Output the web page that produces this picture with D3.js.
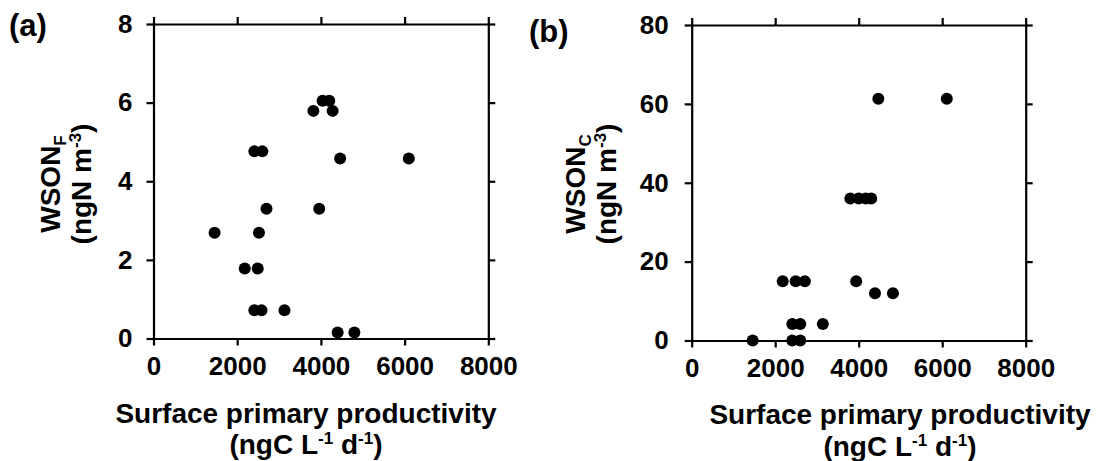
<!DOCTYPE html>
<html>
<head>
<meta charset="utf-8">
<script src="https://cdn.jsdelivr.net/npm/d3@7"></script>
<style>
  body { margin: 0; background: #fff; }
  svg text { font-family: "Liberation Sans", Arial, sans-serif; font-weight: bold; fill: #000; }
</style>
</head>
<body>
<svg id="chart" width="1104" height="461"></svg>
<script>
// panel (a): WSON_F vs surface primary productivity
const xA = [1460, 2180, 2490, 2410, 2600, 2520, 2700, 2410, 2580, 3130, 3820, 4040, 4200, 4280, 3960, 4460, 6100, 4400, 4800];
const yA = [2.69, 1.78, 1.78, 4.76, 4.76, 2.69, 3.3, 0.72, 0.72, 0.72, 5.79, 6.05, 6.05, 5.79, 3.3, 4.58, 4.58, 0.15, 0.15];

// panel (b): WSON_C vs surface primary productivity
const xB = [1460, 2180, 2490, 2710, 2410, 2600, 3140, 2410, 2600, 3800, 4000, 4170, 4300, 3940, 4390, 4820, 4470, 6110];
const yB = [0, 15, 15, 15, 4.2, 4.2, 4.2, 0, 0, 36, 36, 36, 36, 15, 12, 12, 61.3, 61.3];

const xTicks = [0, 2000, 4000, 6000, 8000];
const yTicksA = [0, 2, 4, 6, 8];
const yTicksB = [0, 20, 40, 60, 80];

const svg = d3.select('#chart');

function drawPanel(opt) {
    const x = d3.scaleLinear().domain([0, 8000]).range([opt.left, opt.right]);
    const y = d3.scaleLinear().domain([0, opt.ymax]).range([opt.bottom, opt.top]);
    const g = svg.append('g');

    const style = sel => {
        sel.selectAll('path, line').attr('stroke', '#000').attr('stroke-width', 2.2);
        sel.selectAll('text').attr('font-size', 26).attr('fill', '#000');
    };

    g.append('g').attr('transform', `translate(0,${opt.bottom})`)
        .call(d3.axisBottom(x).tickValues(xTicks).tickFormat(d3.format('d'))
            .tickSizeInner(7).tickSizeOuter(0).tickPadding(11))
        .call(style);
    g.append('g').attr('transform', `translate(0,${opt.top})`)
        .call(d3.axisTop(x).tickValues(xTicks).tickSizeInner(7).tickSizeOuter(0).tickFormat(''))
        .call(style);
    g.append('g').attr('transform', `translate(${opt.left},0)`)
        .call(d3.axisLeft(y).tickValues(opt.yTicks).tickSizeInner(7).tickSizeOuter(0).tickPadding(opt.ypad))
        .call(style);
    g.append('g').attr('transform', `translate(${opt.right},0)`)
        .call(d3.axisRight(y).tickValues(opt.yTicks).tickSizeInner(7).tickSizeOuter(0).tickFormat(''))
        .call(style);
    g.selectAll('.domain').attr('stroke-linecap', 'square');

    g.append('g').selectAll('circle')
        .data(d3.zip(opt.xs, opt.ys))
        .enter().append('circle')
        .attr('cx', d => x(d[0]))
        .attr('cy', d => y(d[1]))
        .attr('r', 6)
        .attr('fill', '#000');

    // panel letter
    g.append('text').attr('x', opt.tagX).attr('y', opt.tagY)
        .attr('font-size', 31).text(opt.tag);

    // y title, two lines
    const yt = g.append('text').attr('font-size', 28).attr('text-anchor', 'middle')
        .attr('transform', `translate(${opt.yl1},${opt.ymid}) rotate(-90)`);
    yt.append('tspan').text('WSON');
    yt.append('tspan').attr('font-size', 17).attr('dy', 6).text(opt.sub);

    const yt2 = g.append('text').attr('font-size', 28).attr('text-anchor', 'middle')
        .attr('transform', `translate(${opt.yl2},${opt.ymid}) rotate(-90)`);
    yt2.append('tspan').text('(ngN m');
    yt2.append('tspan').attr('font-size', 17).attr('dy', -10).text('-3');
    yt2.append('tspan').attr('dy', 10).text(')');

    // x title, two lines
    g.append('text').attr('x', opt.xmid).attr('y', opt.xt1)
        .attr('font-size', 28).attr('text-anchor', 'middle')
        .text('Surface primary productivity');
    const xt = g.append('text').attr('x', opt.xmid).attr('y', opt.xt2)
        .attr('font-size', 28).attr('text-anchor', 'middle');
    xt.append('tspan').text('(ngC L');
    xt.append('tspan').attr('font-size', 17).attr('dy', -10).text('-1');
    xt.append('tspan').attr('dy', 10).text(' d');
    xt.append('tspan').attr('font-size', 17).attr('dy', -10).text('-1');
    xt.append('tspan').attr('dy', 10).text(')');
}

drawPanel({
    xs: xA, ys: yA, ymax: 8, yTicks: yTicksA, sub: 'F', tag: '(a)',
    left: 153.5, right: 488.3, top: 24, bottom: 338.5, ypad: 14,
    tagX: 9, tagY: 36, yl1: 60, yl2: 91, ymid: 184,
    xmid: 306, xt1: 423, xt2: 454
});

drawPanel({
    xs: xB, ys: yB, ymax: 80, yTicks: yTicksB, sub: 'C', tag: '(b)',
    left: 691.7, right: 1025.7, top: 25, bottom: 340.5, ypad: 16,
    tagX: 529, tagY: 42, yl1: 585, yl2: 616, ymid: 184,
    xmid: 900, xt1: 424, xt2: 456
});
</script>
</body>
</html>
